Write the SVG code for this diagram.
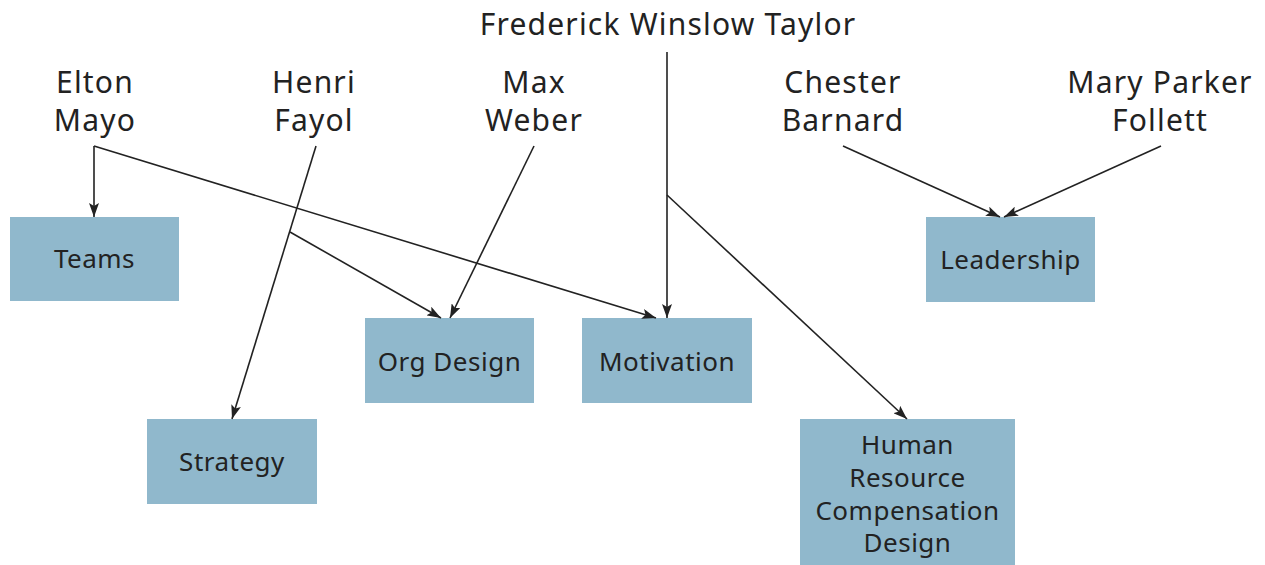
<svg xmlns="http://www.w3.org/2000/svg" width="1265" height="565" viewBox="0 0 1265 565">
<style>
.box{fill:#90b8cc;}
.bt{font-family:"Noto Sans","Open Sans",sans-serif;font-size:26px;letter-spacing:0.5px;fill:#222;text-anchor:middle;}
.nt{font-family:"Noto Sans","Open Sans",sans-serif;font-size:30px;letter-spacing:1.2px;fill:#222;text-anchor:middle;}
.ln{fill:none;stroke:#222;stroke-width:1.6;}
</style>
<defs>
<marker id="ah" viewBox="0 0 14 10" refX="14" refY="5" markerWidth="14" markerHeight="10" markerUnits="userSpaceOnUse" orient="auto">
<path d="M0,0 L14,5 L0,10 L3,5 Z" fill="#222"/>
</marker>
</defs>
<rect width="1265" height="565" fill="#fff"/>
<g id="people">
<g id="elton"><text class="nt" x="95" y="93">Elton</text><text class="nt" x="95" y="131">Mayo</text></g>
<g id="henri"><text class="nt" x="314" y="93">Henri</text><text class="nt" x="314" y="131">Fayol</text></g>
<g id="max"><text class="nt" x="534" y="93">Max</text><text class="nt" x="534" y="131">Weber</text></g>
<g id="taylor"><text class="nt" x="668" y="35">Frederick Winslow Taylor</text></g>
<g id="chester"><text class="nt" x="843" y="93">Chester</text><text class="nt" x="843" y="131">Barnard</text></g>
<g id="mary"><text class="nt" x="1160" y="93">Mary Parker</text><text class="nt" x="1160" y="131">Follett</text></g>
</g>
<g id="teams"><rect class="box" x="10" y="217" width="169" height="84"/><text class="bt" x="94.5" y="268">Teams</text></g>
<g id="orgdesign"><rect class="box" x="365" y="318" width="169" height="85"/><text class="bt" x="449.5" y="371">Org Design</text></g>
<g id="motivation"><rect class="box" x="582" y="318" width="170" height="85"/><text class="bt" x="667" y="371">Motivation</text></g>
<g id="leadership"><rect class="box" x="926" y="217" width="169" height="85"/><text class="bt" x="1010.5" y="269">Leadership</text></g>
<g id="strategy"><rect class="box" x="147" y="419" width="170" height="85"/><text class="bt" x="232" y="471">Strategy</text></g>
<g id="hr"><rect class="box" x="800" y="419" width="215" height="150"/>
<text class="bt" x="907.5" y="454">Human</text><text class="bt" x="907.5" y="487">Resource</text><text class="bt" x="907.5" y="520">Compensation</text><text class="bt" x="907.5" y="552">Design</text></g>
<g id="connectors">
<path class="ln" d="M94,146 L94,217" marker-end="url(#ah)"/>
<path class="ln" d="M94,146 L656,318" marker-end="url(#ah)"/>
<path class="ln" d="M316,146 L232,419" marker-end="url(#ah)"/>
<path class="ln" d="M290,232 L441,318" marker-end="url(#ah)"/>
<path class="ln" d="M534,146 L450,318" marker-end="url(#ah)"/>
<path class="ln" d="M667,52 L667,318" marker-end="url(#ah)"/>
<path class="ln" d="M667,195 L907,419" marker-end="url(#ah)"/>
<path class="ln" d="M843,146 L1000,217" marker-end="url(#ah)"/>
<path class="ln" d="M1161,146 L1004,217" marker-end="url(#ah)"/>
</g>
</svg>
